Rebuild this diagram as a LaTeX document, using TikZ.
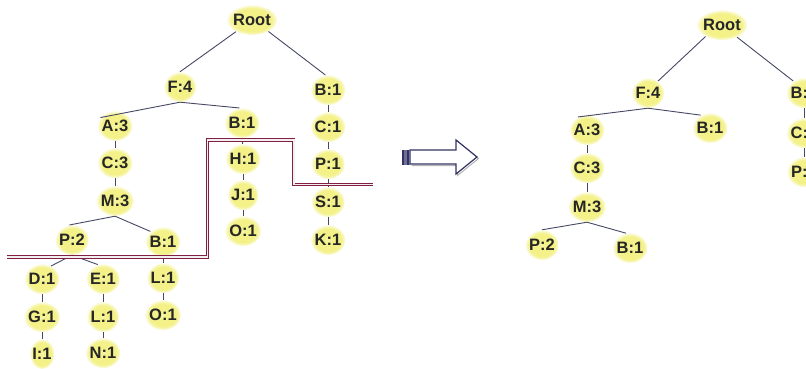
\documentclass[tikz,border=0pt]{standalone}
\usepackage{fontspec}
\setmainfont{Liberation Sans}
\usetikzlibrary{shapes.geometric}
\definecolor{ycore}{RGB}{243,241,135}
\definecolor{yedge}{RGB}{249,248,195}
\definecolor{edgec}{RGB}{70,72,100}
\definecolor{cutc}{RGB}{130,30,70}
\definecolor{arrc}{RGB}{50,50,100}
\pgfdeclareradialshading{glow}{\pgfpoint{0bp}{0bp}}{color(0bp)=(ycore!70!white); color(6bp)=(ycore); color(19bp)=(ycore); color(23bp)=(yedge); color(26bp)=(white); color(50bp)=(white)}
\tikzset{
  nd/.style={ellipse, shade, shading=glow, inner xsep=-1pt, inner ysep=0pt, minimum height=30pt, font=\fontsize{16.5}{16.5}\selectfont\bfseries, text=black!85},
  edge/.style={draw=edgec, line width=0.9pt},
  cut/.style={draw=cutc, line width=0.9pt, double=white!88!gray, double distance=1.6pt},
}
\begin{document}
\begin{tikzpicture}[x=1pt,y=-1pt]
\useasboundingbox (0,0) rectangle (806,369);
\clip (0,0) rectangle (806,369);
% ---------- left tree ----------
\node[nd] (R) at (252,20) {Root};
\node[nd] (F4) at (180,87) {F:4};
\node[nd] (B1r) at (328,90) {B:1};
\node[nd] (A3) at (115,126) {A:3};
\node[nd] (B1m) at (242,123) {B:1};
\node[nd] (C1) at (328,127) {C:1};
\node[nd] (C3) at (115,163) {C:3};
\node[nd] (H1) at (243,159) {H:1};
\node[nd] (P1) at (328,164) {P:1};
\node[nd] (M3) at (115,201) {M:3};
\node[nd] (J1) at (243,195) {J:1};
\node[nd] (S1) at (328,202) {S:1};
\node[nd] (O1a) at (243,231) {O:1};
\node[nd] (K1) at (328,240) {K:1};
\node[nd] (P2) at (72,240) {P:2};
\node[nd] (B1b) at (163,242) {B:1};
\node[nd] (D1) at (42,279) {D:1};
\node[nd] (E1) at (103,279) {E:1};
\node[nd] (L1a) at (163,278) {L:1};
\node[nd] (G1) at (42,317) {G:1};
\node[nd] (L1b) at (103,317) {L:1};
\node[nd] (O1b) at (163,315) {O:1};
\node[nd] (I1) at (42,354) {I:1};
\node[nd] (N1) at (103,353) {N:1};
\draw[edge] (R.216) -- (F4.north);
\draw[edge] (R.325) -- (B1r.100);
\draw[edge] (F4.south) -- (A3.150);
\draw[edge] (F4.south) -- (B1m.100);
\draw[edge] (A3) -- (C3);
\draw[edge] (C3) -- (M3);
\draw[edge] (B1m) -- (H1);
\draw[edge] (H1) -- (J1);
\draw[edge] (J1) -- (O1a);
\draw[edge] (B1r) -- (C1);
\draw[edge] (C1) -- (P1);
\draw[edge] (P1) -- (S1);
\draw[edge] (S1) -- (K1);
\draw[edge] (M3.south) -- (P2.100);
\draw[edge] (M3.south) -- (B1b.140);
\draw[edge] (P2.south) -- (D1.55);
\draw[edge] (P2.south) -- (E1.110);
\draw[edge] (D1) -- (G1);
\draw[edge] (G1) -- (I1);
\draw[edge] (E1) -- (L1b);
\draw[edge] (L1b) -- (N1);
\draw[edge] (B1b) -- (L1a);
\draw[edge] (L1a) -- (O1b);
% cut line
\draw[cut] (7,257) -- (207.3,257) -- (207.3,140) -- (293.7,140) -- (293.7,184.5) -- (373,184.5);
% ---------- arrow ----------
\draw[gray!60, line width=1pt] (411.5,151.5) -- (457.5,151.5) -- (457.5,141.5) -- (478.5,158.5) -- (457.5,175.5) -- (457.5,165.5) -- (411.5,165.5);
\filldraw[fill=white, draw=arrc, line width=1.2pt, line join=miter] (410,150) -- (456,150) -- (456,140) -- (477,157) -- (456,174) -- (456,164) -- (410,164) -- cycle;
\fill[arrc!70!white] (401.5,149.5) rectangle (410,164.5);
\fill[arrc] (401.5,149.5) rectangle (404,164.5);
\fill[arrc] (406.5,149.5) rectangle (408.5,164.5);
% ---------- right tree ----------
\node[nd] (R2) at (722,25) {Root};
\node[nd] (F42) at (648,93) {F:4};
\node[nd] (B1r2) at (804,93) {B:1};
\node[nd] (C12) at (804,133) {C:1};
\node[nd] (P12) at (804,172) {P:1};
\node[nd] (A32) at (587,130) {A:3};
\node[nd] (B1m2) at (710,128) {B:1};
\node[nd] (C32) at (587,168) {C:3};
\node[nd] (M32) at (587,207) {M:3};
\node[nd] (P22) at (542,245) {P:2};
\node[nd] (B1b2) at (630,248) {B:1};
\draw[edge] (R2.215) -- (F42.50);
\draw[edge] (R2.321) -- (B1r2.132);
\draw[edge] (F42.south) -- (A32.125);
\draw[edge] (F42.south) -- (B1m2.126);
\draw[edge] (A32) -- (C32);
\draw[edge] (C32) -- (M32);
\draw[edge] (B1r2) -- (C12);
\draw[edge] (C12) -- (P12);
\draw[edge] (M32.south) -- (P22.north);
\draw[edge] (M32.south) -- (B1b2.105);
\end{tikzpicture}
\end{document}
